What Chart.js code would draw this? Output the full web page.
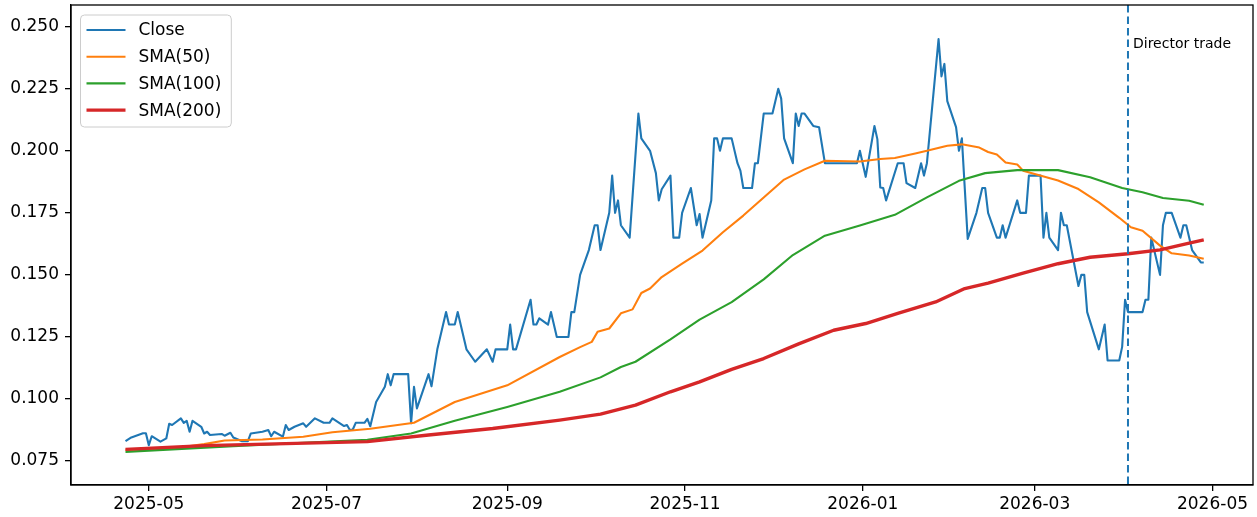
<!DOCTYPE html>
<html>
<head>
<meta charset="utf-8">
<title>Close and SMA</title>
<script src="https://cdn.jsdelivr.net/npm/chart.js@4.4.1/dist/chart.umd.min.js"></script>
<style>
  html, body { margin: 0; padding: 0; background: #fff; }
  #chart { display: block; }
</style>
</head>
<body>
<canvas id="chart" width="1257" height="517"></canvas>
<script>
// Price data
const closeDates = [
  '2025-04-23','2025-04-25','2025-04-29','2025-04-30','2025-05-01','2025-05-02','2025-05-05','2025-05-07','2025-05-08','2025-05-09',
  '2025-05-12','2025-05-13','2025-05-14','2025-05-15','2025-05-16','2025-05-19','2025-05-20','2025-05-21','2025-05-22','2025-05-26',
  '2025-05-27','2025-05-29','2025-05-30','2025-06-02','2025-06-04','2025-06-05','2025-06-09','2025-06-11','2025-06-12','2025-06-13',
  '2025-06-16','2025-06-17','2025-06-18','2025-06-20','2025-06-23','2025-06-24','2025-06-27','2025-06-30','2025-07-02','2025-07-03',
  '2025-07-07','2025-07-08','2025-07-09','2025-07-10','2025-07-11','2025-07-14','2025-07-15','2025-07-16','2025-07-18','2025-07-21',
  '2025-07-22','2025-07-23','2025-07-24','2025-07-29','2025-07-30','2025-07-31','2025-08-01','2025-08-05','2025-08-06','2025-08-08',
  '2025-08-11','2025-08-12','2025-08-14','2025-08-15','2025-08-18','2025-08-21','2025-08-25','2025-08-27','2025-08-28','2025-09-01',
  '2025-09-02','2025-09-03','2025-09-04','2025-09-09','2025-09-10','2025-09-11','2025-09-12','2025-09-15','2025-09-16','2025-09-18',
  '2025-09-22','2025-09-23','2025-09-24','2025-09-26','2025-09-29','2025-10-01','2025-10-02','2025-10-03','2025-10-06','2025-10-07',
  '2025-10-08','2025-10-09','2025-10-10','2025-10-13','2025-10-16','2025-10-17','2025-10-20','2025-10-22','2025-10-23','2025-10-24',
  '2025-10-27','2025-10-28','2025-10-30','2025-10-31','2025-11-03','2025-11-05','2025-11-06','2025-11-07','2025-11-10','2025-11-11',
  '2025-11-12','2025-11-13','2025-11-14','2025-11-17','2025-11-19','2025-11-20','2025-11-21','2025-11-24','2025-11-25','2025-11-26',
  '2025-11-28','2025-12-01','2025-12-03','2025-12-04','2025-12-05','2025-12-08','2025-12-09','2025-12-10','2025-12-11','2025-12-12',
  '2025-12-15','2025-12-17','2025-12-19','2025-12-30','2025-12-31','2026-01-02','2026-01-05','2026-01-06','2026-01-07','2026-01-08',
  '2026-01-09','2026-01-13','2026-01-15','2026-01-16','2026-01-19','2026-01-21','2026-01-22','2026-01-23','2026-01-27','2026-01-28',
  '2026-01-29','2026-01-30','2026-02-02','2026-02-03','2026-02-04','2026-02-06','2026-02-09','2026-02-11','2026-02-12','2026-02-13',
  '2026-02-16','2026-02-17','2026-02-18','2026-02-19','2026-02-23','2026-02-24','2026-02-26','2026-02-27','2026-03-03','2026-03-04',
  '2026-03-05','2026-03-06','2026-03-09','2026-03-10','2026-03-11','2026-03-12','2026-03-16','2026-03-17','2026-03-18','2026-03-19',
  '2026-03-23','2026-03-25','2026-03-26','2026-03-30','2026-03-31','2026-04-01','2026-04-02','2026-04-07','2026-04-08','2026-04-09',
  '2026-04-10','2026-04-13','2026-04-14','2026-04-15','2026-04-17','2026-04-20','2026-04-21','2026-04-22','2026-04-24','2026-04-27',
  '2026-04-28'
];
const closeValues = [
  0.083, 0.0845, 0.0862, 0.0862, 0.0814, 0.085, 0.0828, 0.0841, 0.090, 0.0895,
  0.0922, 0.0904, 0.0912, 0.0868, 0.0912, 0.0888, 0.0861, 0.0868, 0.0855, 0.0859,
  0.0852, 0.0864, 0.0845, 0.0830, 0.0830, 0.0861, 0.0868, 0.0875, 0.0850, 0.0868,
  0.0848, 0.0895, 0.0875, 0.0888, 0.0902, 0.0888, 0.0922, 0.0904, 0.0904, 0.0922,
  0.0891, 0.0895, 0.0875, 0.0877, 0.0904, 0.0904, 0.0920, 0.0890, 0.0988, 0.1049,
  0.110, 0.1055, 0.110, 0.110, 0.0902, 0.1049, 0.0962, 0.110, 0.1051, 0.120,
  0.135, 0.130, 0.130, 0.135, 0.120, 0.115, 0.120, 0.115, 0.120, 0.120,
  0.130, 0.120, 0.120, 0.140, 0.130, 0.130, 0.1325, 0.130, 0.135, 0.125,
  0.125, 0.135, 0.135, 0.150, 0.160, 0.170, 0.170, 0.160, 0.175, 0.190,
  0.175, 0.180, 0.170, 0.165, 0.215, 0.205, 0.200, 0.191, 0.180, 0.1845,
  0.190, 0.165, 0.165, 0.175, 0.185, 0.170, 0.1745, 0.165, 0.180, 0.205,
  0.205, 0.200, 0.205, 0.205, 0.195, 0.192, 0.185, 0.185, 0.195, 0.195,
  0.215, 0.215, 0.225, 0.221, 0.205, 0.195, 0.215, 0.210, 0.215, 0.215,
  0.210, 0.2095, 0.195, 0.195, 0.200, 0.1895, 0.210, 0.2047, 0.1852, 0.185,
  0.180, 0.195, 0.195, 0.187, 0.185, 0.195, 0.190, 0.195, 0.245, 0.230,
  0.235, 0.220, 0.2095, 0.200, 0.205, 0.1645, 0.175, 0.185, 0.185, 0.175,
  0.165, 0.165, 0.170, 0.165, 0.180, 0.175, 0.175, 0.190, 0.190, 0.165,
  0.175, 0.165, 0.160, 0.175, 0.170, 0.170, 0.1455, 0.150, 0.150, 0.135,
  0.120, 0.130, 0.1155, 0.1155, 0.121, 0.140, 0.135, 0.135, 0.140, 0.140,
  0.165, 0.150, 0.170, 0.175, 0.175, 0.165, 0.170, 0.170, 0.160, 0.155,
  0.155
];

const sma50Dates = [
  '2025-04-23','2025-05-12','2025-05-20','2025-05-27','2025-06-09','2025-06-23','2025-07-03','2025-07-16','2025-07-31','2025-08-14',
  '2025-09-01','2025-09-19','2025-09-26','2025-09-30','2025-10-02','2025-10-06','2025-10-10','2025-10-14','2025-10-17','2025-10-20',
  '2025-10-24','2025-10-31','2025-11-07','2025-11-14','2025-11-21','2025-11-28','2025-12-05','2025-12-12','2025-12-19','2025-12-31',
  '2026-01-07','2026-01-12','2026-01-19','2026-01-23','2026-01-30','2026-02-04','2026-02-10','2026-02-13','2026-02-16','2026-02-19',
  '2026-02-23','2026-02-25','2026-03-09','2026-03-16','2026-03-23','2026-03-30','2026-04-03','2026-04-07','2026-04-13','2026-04-17',
  '2026-04-23','2026-04-28'
];
const sma50Values = [
  0.0795, 0.0805, 0.0818, 0.0833, 0.0837, 0.0848, 0.0866, 0.0880, 0.0904, 0.0988,
  0.1055, 0.1169, 0.1209, 0.1230, 0.1271, 0.1284, 0.1345, 0.1361, 0.1427, 0.1445,
  0.1491, 0.1545, 0.1598, 0.1672, 0.1739, 0.1812, 0.1884, 0.1925, 0.1960, 0.1957,
  0.1967, 0.1971, 0.1989, 0.2000, 0.2020, 0.2026, 0.2013, 0.1995, 0.1985, 0.1953,
  0.1945, 0.1920, 0.1880, 0.1846, 0.1792, 0.1730, 0.1692, 0.1678, 0.1618, 0.1587,
  0.1578, 0.1565
];

const sma100Dates = [
  '2025-04-23','2025-05-30','2025-07-15','2025-07-30','2025-08-14','2025-09-01','2025-09-19','2025-10-03','2025-10-10','2025-10-15',
  '2025-10-27','2025-11-06','2025-11-17','2025-11-28','2025-12-08','2025-12-19','2025-12-31','2026-01-12','2026-01-23','2026-02-03',
  '2026-02-12','2026-02-23','2026-03-09','2026-03-20','2026-03-31','2026-04-07','2026-04-14','2026-04-23','2026-04-28'
];
const sma100Values = [
  0.0787, 0.0810, 0.0836, 0.0861, 0.0912, 0.0968, 0.1029, 0.1087, 0.1129, 0.1150,
  0.1240, 0.1320, 0.1390, 0.1482, 0.1580, 0.1658, 0.1699, 0.1742, 0.1812, 0.1879,
  0.1910, 0.1922, 0.1922, 0.1893, 0.1850, 0.1833, 0.1810, 0.1799, 0.1783
];

const sma200Dates = [
  '2025-04-23','2025-05-20','2025-07-15','2025-08-05','2025-08-27','2025-09-19','2025-10-03','2025-10-15','2025-10-27','2025-11-06',
  '2025-11-17','2025-11-28','2025-12-10','2025-12-22','2026-01-02','2026-01-13','2026-01-26','2026-02-05','2026-02-13','2026-02-25',
  '2026-03-09','2026-03-20','2026-04-02','2026-04-13','2026-04-23','2026-04-28'
];
const sma200Values = [
  0.0797, 0.0812, 0.0828, 0.0855, 0.0881, 0.0915, 0.0939, 0.0975, 0.1029, 0.1069,
  0.1119, 0.1163, 0.1222, 0.1277, 0.1304, 0.1345, 0.1391, 0.1445, 0.1467, 0.1507,
  0.1545, 0.1571, 0.1585, 0.1601, 0.1628, 0.1641
];

const seriesLabels = ['Close', 'SMA(50)', 'SMA(100)', 'SMA(200)'];
const seriesColors = ['#1f77b4', '#ff7f0e', '#2ca02c', '#d62728'];
const xTickLabels = ['2025-05', '2025-07', '2025-09', '2025-11', '2026-01', '2026-03', '2026-05'];
const yTickValues = [0.075, 0.100, 0.125, 0.150, 0.175, 0.200, 0.225, 0.250];
const directorDate = '2026-04-02';
const directorLabel = 'Director trade';

// days since 2025-05-01
const ORIGIN = Date.UTC(2025, 4, 1);
function dayNum(s) {
    const [y, m, d] = s.split('-').map(Number);
    return (Date.UTC(y, m - 1, d) - ORIGIN) / 86400000;
}

function toPoints(dates, values) {
    return dates.map((d, i) => ({ x: dayNum(d), y: values[i] }));
}

const FONT = '"DejaVu Sans", Verdana, sans-serif';
Chart.defaults.font.family = FONT;
Chart.defaults.font.size = 17;
Chart.defaults.color = '#000';

const lineWidths = [2.1, 2.1, 2.1, 3.4];
const datasets = [
    toPoints(closeDates, closeValues),
    toPoints(sma50Dates, sma50Values),
    toPoints(sma100Dates, sma100Values),
    toPoints(sma200Dates, sma200Values)
].map((pts, i) => ({
    label: seriesLabels[i],
    data: pts,
    borderColor: seriesColors[i],
    backgroundColor: seriesColors[i],
    borderWidth: lineWidths[i],
    pointRadius: 0,
    tension: 0,
    fill: false,
    order: 3 - i,
    borderJoinStyle: 'round',
    borderCapStyle: 'butt'
}));

// frame, director marker and legend, drawn matplotlib style
const extrasPlugin = {
    id: 'extras',
    afterDatasetsDraw(chart) {
        const { ctx, chartArea: a, scales: { x } } = chart;
        ctx.save();

        const px = x.getPixelForValue(dayNum(directorDate));
        ctx.strokeStyle = '#1f77b4';
        ctx.lineWidth = 2;
        ctx.setLineDash([7.5, 4]);
        ctx.beginPath();
        ctx.moveTo(px, a.top);
        ctx.lineTo(px, a.bottom);
        ctx.stroke();
        ctx.setLineDash([]);

        ctx.fillStyle = '#000';
        ctx.font = '14px ' + FONT;
        ctx.textBaseline = 'middle';
        ctx.textAlign = 'left';
        ctx.fillText(directorLabel, px + 5, a.top + 39);

        ctx.strokeStyle = '#000';
        ctx.lineWidth = 1.3;
        ctx.strokeRect(a.left, a.top, a.right - a.left, a.bottom - a.top);

        // legend
        ctx.font = '17px ' + FONT;
        const maxW = Math.max(...seriesLabels.map(l => ctx.measureText(l).width));
        const bx = a.left + 9.5, by = a.top + 10;
        const bw = 58 + maxW + 10, bh = 112;
        ctx.beginPath();
        ctx.roundRect(bx, by, bw, bh, 4);
        ctx.fillStyle = 'rgba(255,255,255,0.8)';
        ctx.fill();
        ctx.strokeStyle = '#cccccc';
        ctx.lineWidth = 1;
        ctx.stroke();
        seriesLabels.forEach((label, i) => {
            const cy = by + 15 + i * 26.7;
            ctx.strokeStyle = seriesColors[i];
            ctx.lineWidth = lineWidths[i];
            ctx.beginPath();
            ctx.moveTo(bx + 6, cy);
            ctx.lineTo(bx + 45, cy);
            ctx.stroke();
            ctx.fillStyle = '#000';
            ctx.fillText(label, bx + 58, cy + 1);
        });
        ctx.restore();
    }
};

new Chart(document.getElementById('chart'), {
    type: 'line',
    data: { datasets },
    plugins: [extrasPlugin],
    options: {
        responsive: false,
        animation: false,
        devicePixelRatio: 1,
        layout: { padding: { top: 5, right: 4, left: 0, bottom: 0 } },
        plugins: {
            legend: { display: false },
            tooltip: { enabled: false }
        },
        scales: {
            x: {
                type: 'linear',
                min: -26.7,
                max: 378.9,
                afterBuildTicks: (scale) => {
                    scale.ticks = xTickLabels.map(l => ({ value: dayNum(l + '-01') }));
                },
                afterFit: (scale) => {
                    scale.height = 32;
                    scale.paddingLeft = 0;
                    scale.paddingRight = 0;
                },
                ticks: {
                    autoSkip: false,
                    maxRotation: 0,
                    padding: 3,
                    callback: (v, i) => xTickLabels[i]
                },
                grid: { drawOnChartArea: false, drawTicks: true, tickLength: 6, color: '#000', lineWidth: 1.3 },
                border: { display: true, color: '#000', width: 1.3 }
            },
            y: {
                type: 'linear',
                min: 0.06534,
                max: 0.25874,
                afterBuildTicks: (scale) => {
                    scale.ticks = yTickValues.map(v => ({ value: v }));
                },
                afterFit: (scale) => {
                    scale.width = 71;
                    scale.paddingTop = 0;
                    scale.paddingBottom = 0;
                },
                ticks: {
                    padding: 6,
                    callback: (v) => v.toFixed(3)
                },
                grid: { drawOnChartArea: false, drawTicks: true, tickLength: 6, color: '#000', lineWidth: 1.3 },
                border: { display: true, color: '#000', width: 1.3 }
            }
        }
    }
});
</script>
</body>
</html>
